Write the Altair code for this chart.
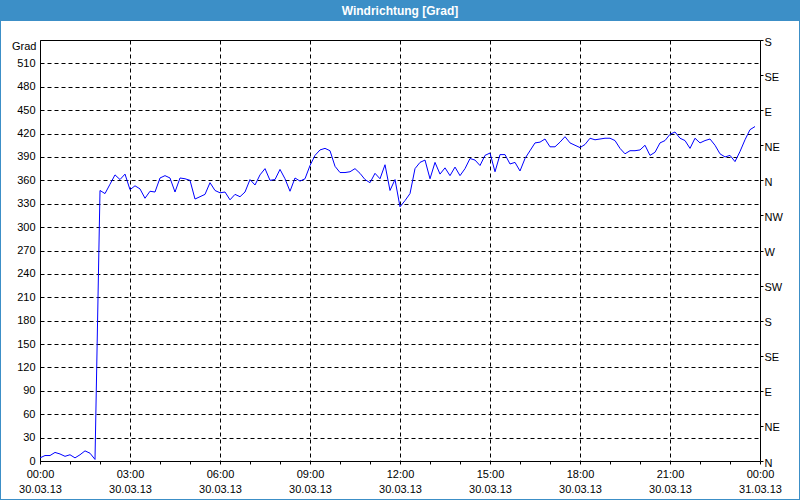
import json
import altair as alt
import pandas as pd

# Wind direction in degrees, one reading every 10 minutes from 30.03.13 00:00 to 23:50
direction = [
    4, 7, 7, 11, 9, 6,            # 00:00
    8, 4, 8, 13, 10, 2,           # 01:00
    347, 343, 355, 367, 361, 368, # 02:00
    348, 353, 349, 337, 346, 345, # 03:00
    363, 366, 363, 345, 363, 362, # 04:00
    360, 336, 339, 342, 357, 347, # 05:00
    344, 345, 335, 342, 339, 345, # 06:00
    361, 354, 367, 375, 360, 361, # 07:00
    374, 362, 346, 363, 359, 362, # 08:00
    379, 392, 399, 401, 398, 378, # 09:00
    370, 370, 371, 375, 369, 361, # 10:00
    357, 369, 362, 380, 347, 361, # 11:00
    326, 334, 343, 375, 383, 386, # 12:00
    362, 383, 368, 376, 366, 377, # 13:00
    366, 375, 388, 386, 379, 392, # 14:00
    395, 371, 393, 393, 381, 383, # 15:00
    372, 388, 398, 408, 409, 413, # 16:00
    403, 403, 409, 416, 408, 405, # 17:00
    402, 406, 414, 412, 413, 414, # 18:00
    414, 411, 401, 394, 398, 398, # 19:00
    399, 405, 392, 396, 408, 411, # 20:00
    419, 422, 414, 411, 401, 414, # 21:00
    408, 411, 413, 405, 394, 390, # 22:00
    392, 384, 397, 412, 425, 429, # 23:00
]
step_minutes = 10
hours = [i * step_minutes / 60 for i in range(len(direction))]

degree_ticks = list(range(0, 540, 30))
compass_ticks = list(range(0, 541, 45))
compass_names = ["N", "NE", "E", "SE", "S", "SW", "W", "NW"]
hour_ticks = list(range(0, 25))
dates = ["30.03.13", "31.03.13"]
title_text = "Windrichtung [Grad]"

df = pd.DataFrame({"t": hours, "deg": direction})

FONT = "Liberation Sans"
BLUE = "#3c8fc7"

x_enc = alt.X(
    "t:Q",
    scale=alt.Scale(domain=[0, 24], nice=False, zero=False),
    axis=alt.Axis(
        values=hour_ticks,
        grid=True,
        gridColor="black",
        gridDash=[4, 3],
        gridOpacity={"condition": {"test": "datum.value % 3 == 0", "value": 1}, "value": 0},
        domain=False,
        ticks=True,
        tickSize=3,
        tickColor="black",
        labelExpr=(
            "datum.value % 3 == 0 ? ["
            "((datum.value % 24) < 10 ? '0' : '') + (datum.value % 24) + ':00', "
            f"datum.value >= 24 ? '{dates[1]}' : '{dates[0]}'] : ''"
        ),
        labelFont=FONT,
        labelFontSize=11,
        labelColor="black",
        labelPadding=4,
        labelLineHeight=15,
        labelOverlap=False,
        labelFlush=False,
        labelBound=False,
        title=None,
    ),
)

y_scale = alt.Scale(domain=[0, 540], nice=False, zero=True)

y_left = alt.Y(
    "deg:Q",
    scale=y_scale,
    axis=alt.Axis(
        values=degree_ticks,
        grid=True,
        gridColor="black",
        gridDash=[4, 3],
        domain=False,
        ticks=False,
        labelPadding=5,
        labelFont=FONT,
        labelFontSize=11,
        labelColor="black",
        title="Grad",
        titleAngle=0,
        titleX=-4,
        titleY=6,
        titleAlign="right",
        titleBaseline="middle",
        titleFont=FONT,
        titleFontSize=11,
        titleFontWeight="normal",
        titleColor="black",
    ),
)

y_right = alt.Y(
    "deg:Q",
    scale=y_scale,
    axis=alt.Axis(
        orient="right",
        values=compass_ticks,
        grid=False,
        domain=False,
        ticks=True,
        tickSize=3,
        tickColor="black",
        labelExpr=f"{json.dumps(compass_names)}[(datum.value / 45) % 8]",
        labelPadding=1,
        labelOffset=2,
        labelFont=FONT,
        labelFontSize=11,
        labelColor="black",
        title=None,
    ),
)

one = alt.Data(values=[{}])

title_bar = alt.Chart(one).mark_rect(color=BLUE).encode(
    x=alt.value(-40), x2=alt.value(760), y=alt.value(-40), y2=alt.value(-19)
)
frame = alt.Chart(one).mark_rect(fillOpacity=0, stroke=BLUE, strokeWidth=2).encode(
    x=alt.value(-40), x2=alt.value(760), y=alt.value(-40), y2=alt.value(460)
)
title = alt.Chart(one).mark_text(
    text=title_text, color="white", font=FONT, fontSize=12, fontWeight="bold",
    baseline="middle", align="center"
).encode(x=alt.value(360), y=alt.value(-29))

line = alt.Chart(df).mark_line(color="#0000ff", strokeWidth=1).encode(x=x_enc, y=y_left)
right_axis = alt.Chart(df).mark_line(opacity=0).encode(x=x_enc, y=y_right)

chart = (
    alt.layer(title_bar, frame, title, line, right_axis)
    .resolve_axis(y="independent")
    .resolve_scale(y="shared")
    .properties(
        width=720,
        height=421,
        autosize=alt.AutoSizeParams(type="none"),
        padding={"left": 40, "top": 40, "right": 40, "bottom": 39},
    )
    .configure(background="white")
    .configure_view(stroke="black", strokeWidth=1)
)

chart.save("out.html", embed_options={"renderer": "svg", "actions": False})
